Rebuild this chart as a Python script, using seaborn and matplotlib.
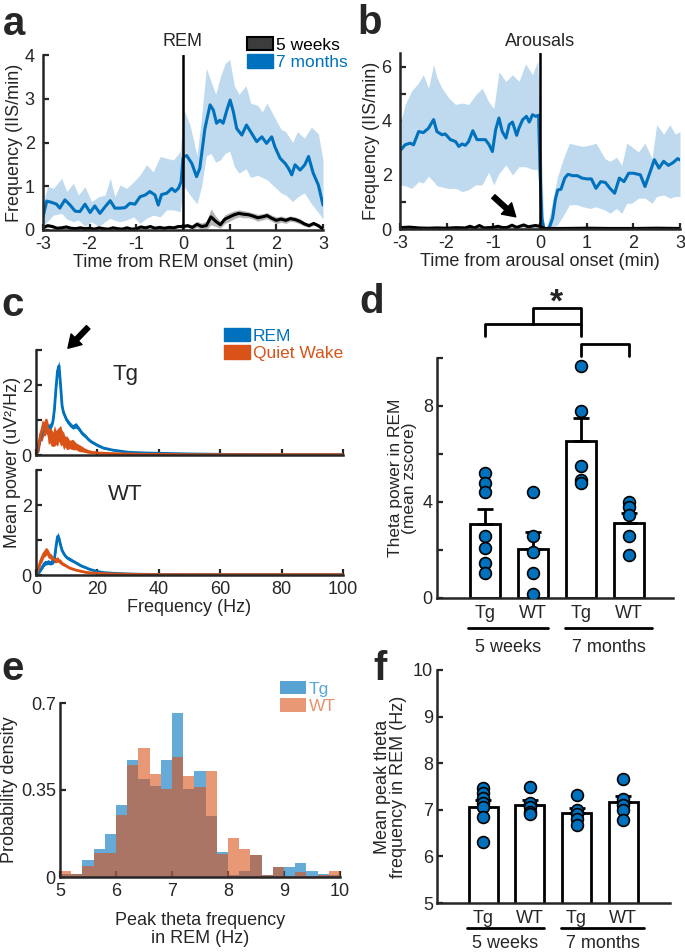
import numpy as np
import pandas as pd
import seaborn as sns
import matplotlib.pyplot as plt
from matplotlib.patches import Patch

sns.set_style("ticks")
plt.rcParams['font.family'] = ['Liberation Sans', 'DejaVu Sans']
plt.rcParams['axes.unicode_minus'] = False

BLUE = '#0072BD'
ORANGE = '#D95319'
LIGHTBLUE = '#bfdaef'

# ---- panel a : IIS around REM onset
t_a_7m = [-3.0, -2.92, -2.81, -2.71, -2.64, -2.53, -2.42, -2.31, -2.21, -2.10, -1.99, -1.89, -1.78,
          -1.67, -1.56, -1.46, -1.35, -1.24, -1.14, -1.03, -0.92, -0.81, -0.71, -0.60, -0.53, -0.46,
          -0.35, -0.24, -0.17, -0.10, -0.04, 0.0, 0.02, 0.08, 0.19, 0.29, 0.36, 0.47, 0.58, 0.65, 0.72,
          0.79, 0.86, 0.94, 1.01, 1.08, 1.15, 1.26, 1.36, 1.47, 1.58, 1.69, 1.79, 1.90, 1.97, 2.08,
          2.19, 2.26, 2.33, 2.40, 2.51, 2.61, 2.69, 2.79, 2.90, 3.0]
a_7m = [0.30, 0.66, 0.63, 0.59, 0.50, 0.69, 0.57, 0.43, 0.42, 0.59, 0.40, 0.55, 0.38,
        0.53, 0.67, 0.50, 0.50, 0.51, 0.61, 0.59, 0.76, 0.80, 0.88, 0.80, 0.57, 0.81,
        0.84, 0.95, 0.88, 0.95, 1.10, 1.64, 1.68, 1.70, 1.52, 1.22, 1.41, 2.32, 2.86, 2.74, 2.44,
        2.51, 2.44, 2.74, 2.97, 2.70, 2.32, 2.17, 2.40, 2.21, 2.02, 2.13, 1.98, 2.13, 1.90, 1.64,
        1.52, 1.41, 1.26, 1.49, 1.37, 1.49, 1.68, 1.30, 1.03, 0.57]
t_a_band = [-3.0, -2.9, -2.78, -2.6, -2.49, -2.35, -2.24, -2.1, -1.96, -1.81, -1.67, -1.56, -1.46,
            -1.35, -1.21, -1.06, -0.92, -0.78, -0.64, -0.49, -0.35, -0.21, -0.06, 0.0, 0.02, 0.15,
            0.3, 0.4, 0.5, 0.6, 0.7, 0.8, 0.9, 1.0, 1.1, 1.2, 1.35, 1.45, 1.6, 1.7, 1.8, 1.95, 2.1,
            2.2, 2.35, 2.45, 2.6, 2.75, 2.9, 3.0]
a_7m_lo = [0.10, 0.20, 0.34, 0.38, 0.25, 0.19, 0.23, 0.08, 0.19, 0.08, 0.19, 0.27, 0.22,
           0.19, 0.23, 0.30, 0.15, 0.27, 0.34, 0.30, 0.46, 0.46, 0.42, 0.90, 1.00, 0.80,
           0.60, 1.00, 1.70, 1.75, 1.55, 1.60, 1.75, 1.80, 1.45, 1.30, 1.40, 1.20, 1.25, 1.20, 1.15,
           1.00, 0.85, 0.80, 0.65, 0.75, 0.85, 0.60, 0.40, 0.25]
a_7m_hi = [0.60, 1.00, 0.95, 1.18, 0.88, 1.07, 0.80, 0.99, 0.65, 0.76, 0.80, 1.18, 0.76,
           1.03, 0.95, 1.10, 1.26, 1.49, 1.33, 1.68, 1.64, 1.60, 1.79, 2.60, 2.75, 2.40,
           1.70, 2.60, 3.70, 3.40, 3.10, 3.50, 3.80, 3.90, 3.30, 3.10, 3.30, 2.90, 2.85, 2.70, 2.90,
           2.60, 2.30, 2.25, 2.00, 2.25, 2.10, 2.35, 2.20, 1.60]
t_a_5w = [-3.0, -2.9, -2.8, -2.7, -2.6, -2.5, -2.4, -2.3, -2.2, -2.1, -2.0, -1.9, -1.8, -1.7, -1.6,
          -1.5, -1.4, -1.3, -1.2, -1.1, -1.0, -0.9, -0.8, -0.7, -0.6, -0.5, -0.4, -0.3, -0.2, -0.1,
          0.0, 0.1, 0.2, 0.3, 0.4, 0.5, 0.6, 0.7, 0.8, 0.9, 1.0, 1.1, 1.2, 1.3, 1.4, 1.5, 1.6, 1.7,
          1.8, 1.9, 2.0, 2.1, 2.2, 2.3, 2.4, 2.5, 2.6, 2.7, 2.8, 2.9, 3.0]
a_5w = [0.05, 0.10, 0.08, 0.04, 0.05, 0.07, 0.04, 0.03, 0.05, 0.03, 0.04, 0.02, 0.05, 0.03, 0.02,
        0.05, 0.03, 0.02, 0.05, 0.02, 0.03, 0.07, 0.05, 0.08, 0.04, 0.06, 0.04, 0.06, 0.05, 0.08,
        0.08, 0.10, 0.06, 0.13, 0.08, 0.10, 0.30, 0.20, 0.12, 0.25, 0.30, 0.35, 0.38, 0.36, 0.35,
        0.32, 0.28, 0.30, 0.33, 0.27, 0.22, 0.25, 0.22, 0.26, 0.24, 0.20, 0.14, 0.10, 0.15, 0.10, 0.02]
a_5w_sem = [0.03, 0.03, 0.03, 0.02, 0.02, 0.03, 0.02, 0.02, 0.02, 0.02, 0.02, 0.02, 0.02, 0.02, 0.02,
            0.02, 0.02, 0.02, 0.02, 0.02, 0.02, 0.03, 0.02, 0.03, 0.02, 0.02, 0.02, 0.02, 0.02, 0.03,
            0.03, 0.04, 0.05, 0.07, 0.08, 0.10, 0.18, 0.12, 0.08, 0.10, 0.10, 0.09, 0.08, 0.08, 0.07,
            0.07, 0.08, 0.07, 0.07, 0.07, 0.08, 0.07, 0.07, 0.06, 0.06, 0.06, 0.05, 0.04, 0.04, 0.04, 0.03]

# ---- panel b : IIS around arousal onset
t_b_7m = [-3.0, -2.89, -2.78, -2.71, -2.60, -2.50, -2.39, -2.28, -2.21, -2.10, -2.03, -1.92, -1.81,
          -1.74, -1.67, -1.60, -1.53, -1.44, -1.35, -1.24, -1.17, -1.09, -1.02, -0.95, -0.88, -0.81,
          -0.73, -0.66, -0.59, -0.50, -0.45, -0.37, -0.29, -0.23, -0.16, -0.09, -0.03, 0.0, 0.04,
          0.08, 0.13, 0.2, 0.27, 0.33, 0.38, 0.45, 0.53, 0.6, 0.7, 0.8, 0.9, 1.0, 1.1, 1.2, 1.3, 1.4,
          1.5, 1.6, 1.7, 1.8, 1.9, 2.0, 2.15, 2.25, 2.35, 2.45, 2.55, 2.65, 2.75, 2.85, 2.95, 3.0]
b_7m = [2.89, 3.11, 3.17, 3.11, 3.60, 3.56, 3.72, 4.04, 3.60, 3.48, 3.51, 3.30, 3.23,
        3.05, 3.14, 3.09, 3.23, 3.63, 3.30, 3.30, 3.30, 3.11, 2.86, 3.67, 4.10, 3.60,
        3.36, 3.85, 3.95, 3.46, 3.73, 4.04, 4.16, 3.95, 4.22, 4.16, 4.20, 2.20, 0.40,
        0.05, 0.0, 0.05, 0.40, 1.10, 1.44, 1.47, 1.88, 2.02, 1.97, 1.97, 1.88, 1.85, 1.85, 1.50, 1.75, 1.72,
        1.50, 1.32, 1.88, 1.75, 2.06, 2.06, 2.00, 1.57, 2.06, 2.56, 2.25, 2.50, 2.35, 2.45, 2.60, 2.55]
t_b_band = [-3.0, -2.89, -2.75, -2.6, -2.5, -2.39, -2.28, -2.21, -2.1, -1.96, -1.81, -1.67, -1.53,
            -1.38, -1.24, -1.1, -0.99, -0.88, -0.73, -0.59, -0.45, -0.31, -0.16, -0.05, 0.0, 0.08,
            0.13, 0.22, 0.37, 0.5, 0.63, 0.78, 0.92, 1.07, 1.2, 1.39, 1.5, 1.64, 1.75, 1.86, 1.96,
            2.11, 2.25, 2.4, 2.5, 2.65, 2.78, 2.9, 3.0]
b_7m_lo = [1.63, 1.60, 1.50, 1.75, 1.70, 1.95, 1.75, 1.60, 1.55, 1.50, 1.50, 1.38, 1.45,
           1.63, 1.63, 2.10, 1.63, 2.05, 2.37, 2.00, 2.30, 2.30, 2.20, 2.20, 1.20, 0.0,
           0.0, 0.05, 0.15, 0.50, 0.89, 0.90, 0.82, 0.76, 0.82, 0.70, 0.58, 0.76, 0.58, 0.95, 0.95,
           1.14, 1.14, 0.95, 1.20, 1.26, 1.14, 1.20, 1.20]
b_7m_hi = [3.85, 4.60, 5.10, 5.40, 5.70, 5.20, 6.07, 5.60, 5.20, 4.85, 4.60, 4.65, 4.60,
           4.95, 5.20, 4.70, 4.45, 5.80, 5.45, 5.70, 5.45, 6.10, 5.70, 6.20, 4.50, 0.10,
           0.0, 0.60, 1.90, 2.60, 3.17, 3.10, 3.05, 3.10, 3.17, 2.60, 2.50, 2.65, 2.35, 3.17, 3.05,
           2.85, 3.17, 2.60, 3.85, 3.50, 3.85, 3.50, 3.60]
t_b_5w = [-3.0, -2.8, -2.6, -2.4, -2.2, -2.0, -1.8, -1.6, -1.5, -1.4, -1.3, -1.2, -1.0, -0.9, -0.8,
          -0.7, -0.6, -0.5, -0.35, -0.25, -0.1, 0.0, 0.1, 0.5, 1.0, 1.5, 2.0, 2.5, 3.0]
b_5w = [0.05, 0.07, 0.04, 0.03, 0.04, 0.03, 0.05, 0.04, 0.10, 0.04, 0.13, 0.04, 0.06, 0.10, 0.05,
        0.06, 0.14, 0.06, 0.15, 0.08, 0.13, 0.10, 0.02, 0.02, 0.03, 0.02, 0.02, 0.03, 0.02]

# ---- panel c : power spectra
freq_c = [0, 0.5, 1, 1.5, 2, 2.5, 3, 3.5, 4, 4.5, 5, 5.5, 6, 6.5, 7, 7.5, 8, 8.5, 9, 9.5, 10, 11, 12,
          13, 14, 15, 16, 17, 18, 20, 22, 25, 30, 35, 40, 50, 60, 70, 80, 90, 100]
tg_rem = [0, 0.10, 0.30, 0.50, 0.65, 0.75, 0.80, 0.82, 0.80, 0.80, 0.85, 0.95, 1.30, 1.90, 2.40, 2.55,
          2.00, 1.40, 1.20, 1.10, 1.00, 0.88, 0.80, 0.85, 0.75, 0.62, 0.55, 0.45, 0.38, 0.28, 0.20,
          0.14, 0.08, 0.06, 0.05, 0.03, 0.02, 0.015, 0.01, 0.01, 0.01]
tg_rem_sem = [0.01, 0.04, 0.06, 0.08, 0.08, 0.08, 0.09, 0.08, 0.09, 0.08, 0.09, 0.09, 0.10, 0.12, 0.15,
              0.14, 0.12, 0.10, 0.08, 0.08, 0.07, 0.07, 0.06, 0.08, 0.06, 0.06, 0.05, 0.05, 0.04, 0.04,
              0.03, 0.02, 0.02, 0.015, 0.01, 0.01, 0.01, 0.01, 0.01, 0.01, 0.01]
tg_qw = [0, 0.15, 0.35, 0.60, 0.70, 0.75, 0.80, 0.85, 0.60, 0.55, 0.50, 0.45, 0.55, 0.50, 0.50, 0.60,
         0.55, 0.50, 0.40, 0.38, 0.35, 0.30, 0.30, 0.25, 0.20, 0.17, 0.13, 0.10, 0.08, 0.06, 0.05,
         0.04, 0.03, 0.02, 0.02, 0.01, 0.01, 0.01, 0.01, 0.01, 0.01]
tg_qw_sem = [0.01, 0.10, 0.25, 0.20, 0.30, 0.20, 0.25, 0.20, 0.30, 0.20, 0.25, 0.20, 0.30, 0.20, 0.25,
             0.20, 0.30, 0.20, 0.25, 0.15, 0.20, 0.12, 0.15, 0.10, 0.10, 0.08, 0.06, 0.05, 0.04, 0.03,
             0.02, 0.02, 0.01, 0.01, 0.01, 0.01, 0.01, 0.01, 0.01, 0.01, 0.01]
wt_rem = [0, 0.02, 0.08, 0.15, 0.22, 0.30, 0.35, 0.35, 0.37, 0.35, 0.36, 0.38, 0.45, 0.80, 1.10, 1.05,
          0.85, 0.70, 0.62, 0.55, 0.50, 0.45, 0.40, 0.35, 0.30, 0.25, 0.22, 0.18, 0.15, 0.10, 0.07,
          0.05, 0.03, 0.02, 0.015, 0.01, 0.01, 0.01, 0.01, 0.01, 0.01]
wt_rem_sem = [0.01, 0.02, 0.04, 0.05, 0.06, 0.07, 0.07, 0.06, 0.07, 0.06, 0.07, 0.07, 0.08, 0.10, 0.12,
              0.10, 0.08, 0.07, 0.06, 0.05, 0.05, 0.05, 0.04, 0.04, 0.04, 0.03, 0.03, 0.03, 0.02, 0.02,
              0.02, 0.01, 0.01, 0.01, 0.01, 0.01, 0.01, 0.01, 0.01, 0.01, 0.01]
wt_qw = [0, 0.10, 0.25, 0.40, 0.50, 0.60, 0.65, 0.68, 0.60, 0.55, 0.50, 0.45, 0.45, 0.42, 0.45, 0.40,
         0.38, 0.33, 0.30, 0.28, 0.25, 0.20, 0.17, 0.14, 0.12, 0.10, 0.08, 0.07, 0.06, 0.05, 0.04,
         0.03, 0.02, 0.015, 0.01, 0.01, 0.01, 0.01, 0.01, 0.01, 0.01]
wt_qw_sem = [0.01, 0.06, 0.10, 0.08, 0.12, 0.10, 0.12, 0.10, 0.12, 0.08, 0.10, 0.08, 0.10, 0.07, 0.08,
             0.06, 0.07, 0.05, 0.05, 0.04, 0.04, 0.03, 0.03, 0.02, 0.02, 0.02, 0.02, 0.01, 0.01, 0.01,
             0.01, 0.01, 0.01, 0.01, 0.01, 0.01, 0.01, 0.01, 0.01, 0.01, 0.01]

# ---- panel d / f : per-animal values
groups = ['Tg 5w', 'WT 5w', 'Tg 7m', 'WT 7m']
group_ticks = ['Tg', 'WT', 'Tg', 'WT']
theta_power = {
    'Tg 5w': [5.2, 4.8, 4.4, 2.6, 2.1, 1.46, 1.04],
    'WT 5w': [4.4, 2.6, 1.9, 1.05, 0.17],
    'Tg 7m': [9.67, 7.8, 5.5, 4.9, 4.8],
    'WT 7m': [4.0, 3.8, 3.45, 2.6, 1.8],
}
peak_theta = {
    'Tg 5w': [7.47, 7.35, 7.25, 7.15, 7.05, 6.85, 6.31],
    'WT 5w': [7.49, 7.15, 7.05, 6.95, 6.92],
    'Tg 7m': [7.31, 6.99, 6.90, 6.81, 6.68],
    'WT 7m': [7.67, 7.24, 7.10, 7.00, 6.78],
}

# ---- panel e : histogram of peak theta frequency (density per 0.2 Hz bin)
hist_edges = [5.0, 5.2, 5.4, 5.6, 5.8, 6.0, 6.2, 6.4, 6.6, 6.8, 7.0, 7.2, 7.4, 7.6, 7.8, 8.0, 8.2,
              8.4, 8.6, 8.8, 9.0, 9.2, 9.4, 9.6, 9.8, 10.0]
hist_tg = [0.012, 0.011, 0.069, 0.113, 0.173, 0.290, 0.470, 0.395, 0.367, 0.470, 0.661, 0.353, 0.425,
           0.246, 0.099, 0.008, 0.026, 0.087, 0.008, 0.042, 0.039, 0.055, 0.026, 0.012, 0.008]
hist_wt = [0.026, 0.011, 0.044, 0.095, 0.095, 0.250, 0.449, 0.517, 0.413, 0.353, 0.483, 0.405, 0.362,
           0.425, 0.093, 0.156, 0.113, 0.087, 0.008, 0.042, 0.003, 0.020, 0.003, 0.010, 0.025]

W, H = 685, 952
fig = plt.figure(figsize=(W / 100, H / 100), dpi=100)


def box(l, t, r, b):
    return [l / W, 1 - b / H, (r - l) / W, (b - t) / H]


def style(ax):
    sns.despine(ax=ax)
    for s in ['left', 'bottom']:
        ax.spines[s].set_linewidth(1.8)
    ax.tick_params(direction='in', length=4, width=1.6, labelsize=13, pad=3)
    ax.tick_params(axis='x', pad=4)


def letter(x, y, s):
    fig.text(x / W, 1 - y / H, s, fontsize=29, fontweight='bold', va='baseline')


def color_legend(ax, handles, labels, colors, x, y):
    leg = ax.legend(handles, labels, loc='upper left', bbox_to_anchor=(x / W, 1 - y / H),
                    bbox_transform=fig.transFigure, frameon=False, fontsize=12.5,
                    handlelength=1.5, handleheight=0.8, handletextpad=0.15,
                    labelspacing=0.1, borderpad=0, borderaxespad=0)
    for txt, c in zip(leg.get_texts(), colors):
        txt.set_color(c)


# ===== a
ax = fig.add_axes(box(43, 55, 323, 230))
ax.fill_between(t_a_band, a_7m_lo, a_7m_hi, color=LIGHTBLUE, lw=0)
sns.lineplot(x=t_a_7m, y=a_7m, color=BLUE, lw=2.2, ax=ax)
lo5 = np.array(a_5w) - np.array(a_5w_sem)
hi5 = np.array(a_5w) + np.array(a_5w_sem)
ax.fill_between(t_a_5w, np.clip(lo5, 0, None), hi5, color='#b5b5b5', lw=0)
sns.lineplot(x=t_a_5w, y=a_5w, color='k', lw=2.2, ax=ax)
ax.axvline(0, color='k', lw=1.8)
ax.set_xlim(-3, 3)
ax.set_ylim(0, 4)
ax.set_xticks(range(-3, 4))
ax.set_yticks(range(0, 5))
style(ax)
ax.tick_params(axis='y', pad=6)
ax.set_xlabel('Time from REM onset (min)', fontsize=13, labelpad=1)
ax.set_ylabel('Frequency (IIS/min)', fontsize=13, labelpad=1)
ax.text(0, 4.12, 'REM', ha='center', va='bottom', fontsize=13)
color_legend(ax, [Patch(fc='#3c3c3c', ec='k', lw=1.5), Patch(fc=BLUE, ec=BLUE)],
             ['5 weeks', '7 months'], ['k', BLUE], 247, 37)
letter(3, 35, 'a')

# ===== b
ax = fig.add_axes(box(400, 53, 680, 229))
ax.fill_between(t_b_band, b_7m_lo, b_7m_hi, color=LIGHTBLUE, lw=0)
sns.lineplot(x=t_b_7m, y=b_7m, color=BLUE, lw=2.2, ax=ax)
ax.fill_between(t_b_5w, 0, np.array(b_5w) + 0.04, color='#c8c8c8', lw=0)
sns.lineplot(x=t_b_5w, y=b_5w, color='k', lw=2.2, ax=ax)
ax.axvline(0, color='k', lw=1.8)
ax.set_xlim(-3, 3)
ax.set_ylim(0, 6.5)
ax.set_xticks(range(-3, 4))
ax.set_yticks(range(0, 7))
ax.set_yticklabels(['0', '', '2', '', '4', '', '6'])
style(ax)
ax.tick_params(axis='y', pad=6)
ax.set_xlabel('Time from arousal onset (min)', fontsize=13, labelpad=1)
ax.set_ylabel('Frequency (IIS/min)', fontsize=13, labelpad=1)
ax.text(0, 6.6, 'Arousals', ha='center', va='bottom', fontsize=13)
ax.annotate('', xy=(-0.52, 0.45), xytext=(-1.0, 1.2),
            arrowprops=dict(facecolor='k', edgecolor='k', width=3.5, headwidth=11, headlength=9, shrink=0))
letter(357, 34, 'b')

# ===== c
ax_top = fig.add_axes(box(36, 350, 343, 455))
ax_bot = fig.add_axes(box(36, 470, 343, 575))
for ax, rem, rem_s, qw, qw_s, name in [(ax_top, tg_rem, tg_rem_sem, tg_qw, tg_qw_sem, 'Tg'),
                                       (ax_bot, wt_rem, wt_rem_sem, wt_qw, wt_qw_sem, 'WT')]:
    rem, rem_s, qw, qw_s = map(np.array, (rem, rem_s, qw, qw_s))
    ax.fill_between(freq_c, np.clip(rem - rem_s, 0, None), rem + rem_s, color=BLUE, lw=0)
    sns.lineplot(x=freq_c, y=rem, color=BLUE, lw=2, ax=ax)
    ax.fill_between(freq_c, np.clip(qw - qw_s, 0, None), qw + qw_s, color=ORANGE, lw=0)
    sns.lineplot(x=freq_c, y=qw, color=ORANGE, lw=2, ax=ax)
    ax.set_xlim(0, 100)
    ax.set_ylim(0, 3)
    ax.set_xticks(range(0, 101, 20))
    ax.set_yticks([0, 1, 2, 3])
    ax.set_yticklabels(['0', '', '2', ''])
    style(ax)
    ax.text(29, 2.3, name, fontsize=16, ha='center', va='center')
ax_top.set_xticklabels([])
ax_bot.set_xlabel('Frequency (Hz)', fontsize=13, labelpad=1)
fig.text(13 / W, 1 - 462 / H, 'Mean power (uV²/Hz)', rotation=90, ha='center', va='center', fontsize=13)
color_legend(ax_top, [Patch(fc=BLUE, ec=BLUE), Patch(fc=ORANGE, ec=ORANGE)],
             ['REM', 'Quiet Wake'], [BLUE, ORANGE], 224, 328)
ax_top.annotate('', xy=(10.4, 3.05), xytext=(17.0, 3.65), annotation_clip=False,
                arrowprops=dict(facecolor='k', edgecolor='k', width=3.5, headwidth=11, headlength=9, shrink=0))
letter(1, 316, 'c')


# ===== d and f : bars with animals
def bar_panel(ax, values, ylim):
    df = pd.DataFrame([(g, v) for g in groups for v in values[g]], columns=['group', 'value'])
    sns.barplot(data=df, x='group', y='value', order=groups, errorbar=None, width=0.62,
                color='white', edgecolor='k', linewidth=2, ax=ax)
    stats = df.groupby('group')['value'].agg(['mean', 'sem']).reindex(groups)
    ax.errorbar(range(len(groups)), stats['mean'], yerr=[np.zeros(len(groups)), stats['sem']],
                fmt='none', ecolor='k', elinewidth=2, capsize=6, capthick=2, zorder=3)
    sns.stripplot(data=df, x='group', y='value', order=groups, jitter=False, color=BLUE,
                  edgecolor='k', linewidth=1.2, size=8.5, ax=ax, zorder=4)
    ax.set_ylim(*ylim)
    style(ax)
    ax.tick_params(axis='x', length=0, pad=5)
    ax.set_xticks(range(len(groups)))
    ax.set_xticklabels(group_ticks)
    ax.set_xlabel('')


ax = fig.add_axes(box(437, 358, 673, 598))
bar_panel(ax, theta_power, (0, 10))
ax.set_xlim(-1.0, 3.92)
ax.set_yticks([0, 2, 4, 6, 8, 10])
ax.set_yticklabels(['0', '', '4', '', '8', ''])
ax.set_ylabel('Theta power in REM\n(mean zscore)', fontsize=12.5, labelpad=4, linespacing=0.95)
tr = ax.get_xaxis_transform()
for x0, x1, name in [(-0.35, 1.31, '5 weeks'), (1.67, 3.49, '7 months')]:
    ax.plot([x0, x1], [-0.125, -0.125], color='k', lw=2, transform=tr, clip_on=False)
    ax.text((x0 + x1) / 2, -0.205, name, transform=tr, ha='center', va='center', fontsize=13)
br = dict(color='k', lw=2, clip_on=False)
ax.plot([0, 0, 2, 2], [10.9, 11.4, 11.4, 10.9], **br)
ax.plot([2, 2, 3, 3], [10.1, 10.6, 10.6, 10.1], **br)
ax.plot([1, 1, 2, 2], [11.4, 12.1, 12.1, 11.4], **br)
ax.text(1.5, 12.3, '*', ha='center', va='center', fontsize=24, fontweight='bold')
letter(359, 313, 'd')

# ===== e
ax = fig.add_axes(box(60, 703, 340, 877))
centers = (np.array(hist_edges[:-1]) + np.array(hist_edges[1:])) / 2
sns.histplot(x=centers, weights=hist_tg, bins=hist_edges, stat='count', color=BLUE, alpha=0.6,
             linewidth=0, ax=ax)
sns.histplot(x=centers, weights=hist_wt, bins=hist_edges, stat='count', color=ORANGE, alpha=0.6,
             linewidth=0, ax=ax)
ax.set_xlim(5, 10)
ax.set_ylim(0, 0.7)
ax.set_xticks(range(5, 11))
ax.set_yticks([0, 0.35, 0.7])
ax.set_yticklabels(['0', '0.35', '0.7'])
style(ax)
ax.set_xlabel('Peak theta frequency\nin REM (Hz)', fontsize=13, labelpad=9, linespacing=1.1)
ax.set_ylabel('Probability density', fontsize=13, labelpad=2)
color_legend(ax, [Patch(fc=BLUE, alpha=0.65, lw=0), Patch(fc=ORANGE, alpha=0.6, lw=0)],
             ['Tg', 'WT'], ['#5aa6da', '#e8926b'], 280, 681)
letter(1, 680, 'e')

# ===== f
ax = fig.add_axes(box(437, 670, 670, 903))
bar_panel(ax, peak_theta, (5, 10))
ax.set_xlim(-0.985, 4.0)
ax.set_yticks(range(5, 11))
ax.set_ylabel('Mean peak theta\nfrequency in REM (Hz)', fontsize=13, labelpad=4, linespacing=0.95)
tr = ax.get_xaxis_transform()
for x0, x1, name in [(-0.35, 1.3, '5 weeks'), (1.67, 3.45, '7 months')]:
    ax.plot([x0, x1], [-0.107, -0.107], color='k', lw=2, transform=tr, clip_on=False)
    ax.text((x0 + x1) / 2, -0.172, name, transform=tr, ha='center', va='center', fontsize=13)
letter(373, 680, 'f')

plt.savefig('out.png', dpi=100)
